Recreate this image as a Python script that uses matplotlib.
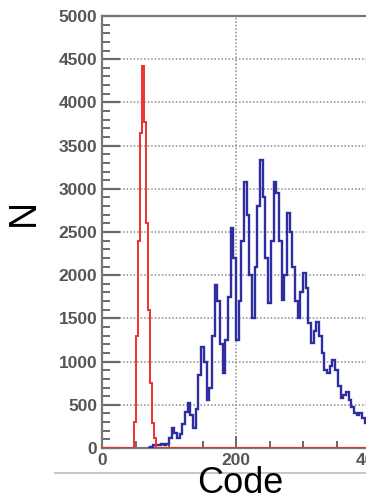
import matplotlib
matplotlib.use('Agg')
import matplotlib.pyplot as plt
from matplotlib.lines import Line2D
from matplotlib.ticker import MultipleLocator, FixedLocator
import numpy as np

plt.rcParams['font.family'] = ['Liberation Sans', 'DejaVu Sans']

# red peak (pedestal), bin width 3 codes, zero outside the peak
red_edges = [0, 45, 48, 51, 54, 57, 60, 63, 66, 69, 72, 75, 78, 81, 500]
red_counts = [0, 0, 300, 1300, 2400, 3650, 4420, 3770, 2600, 1600, 750, 290, 120, 0]

# blue spectrum, bin width 4 codes starting at 68
blue_start = 68
blue_width = 4
blue_counts = [5, 15, 30, 40, 35, 45, 40, 50, 120, 230,
               170, 115, 160, 280, 420, 520, 380, 230, 450, 850,
               1170, 1000, 560, 700, 1300, 1890, 1700, 1200, 870, 1250,
               1750, 2546, 2200, 1250, 1700, 2400, 3080, 2700, 2000, 1505,
               2100, 2800, 3333, 2900, 2200, 1680, 2400, 3080, 2950, 2400,
               1713, 2000, 2720, 2500, 2100, 1700, 1505, 1800, 2025, 1850,
               1450, 1215, 1350, 1458, 1300, 1100, 900, 868, 950, 1018,
               900, 720, 579, 610, 648, 560, 470, 400, 382, 405,
               350, 290, 240, 200, 180, 150, 130]
blue_edges = blue_start + blue_width * np.arange(len(blue_counts) + 1)

W, H = 366, 497
fig = plt.figure(figsize=(W / 100, H / 100), dpi=100)
# axes runs past the right edge of the canvas
ax = fig.add_axes([102 / W, (H - 448) / H, 335 / W, 432 / H])

ax.stairs(blue_counts, blue_edges, color='#2e2ea2', lw=1.7, zorder=3)
ax.stairs(red_counts, red_edges, color='#f03030', lw=1.4, zorder=4)

ax.set_xlim(0, 500)
ax.set_ylim(0, 5000)
ax.xaxis.set_major_locator(FixedLocator([0, 200, 400]))
ax.xaxis.set_minor_locator(MultipleLocator(50))
ax.yaxis.set_major_locator(MultipleLocator(500))
ax.yaxis.set_minor_locator(MultipleLocator(100))

gray = '#6a6a6a'
ax.tick_params(axis='y', which='major', direction='in', length=13, width=1.6,
               color=gray, labelsize=12.5, labelcolor='#555555', pad=3.5)
ax.tick_params(axis='y', which='minor', direction='in', length=6, width=1.4, color=gray)
ax.tick_params(axis='x', which='major', direction='in', length=9, width=1.4,
               color=gray, labelsize=12.5, labelcolor='#555555', pad=3.5)
ax.tick_params(axis='x', which='minor', direction='in', length=5, width=1.4, color=gray)
for lab in ax.get_xticklabels() + ax.get_yticklabels():
    lab.set_fontweight('bold')

ax.grid(which='major', linestyle=(0, (1, 1.3)), color='#8a8a8a', lw=1.1)
for side in ['left', 'top', 'bottom']:
    ax.spines[side].set_color('#777777')
    ax.spines[side].set_linewidth(1.6)

fig.add_artist(Line2D([55 / W, 1], [(H - 473) / H] * 2, color='#bbbbbb', lw=1.2))
fig.text(240 / W, 4 / H, 'Code', fontsize=26, ha='center', va='baseline')
fig.text(24 / W, (H - 212) / H, 'N', fontsize=27, rotation=90, ha='center', va='center')

fig.savefig('out.png', dpi=100)
